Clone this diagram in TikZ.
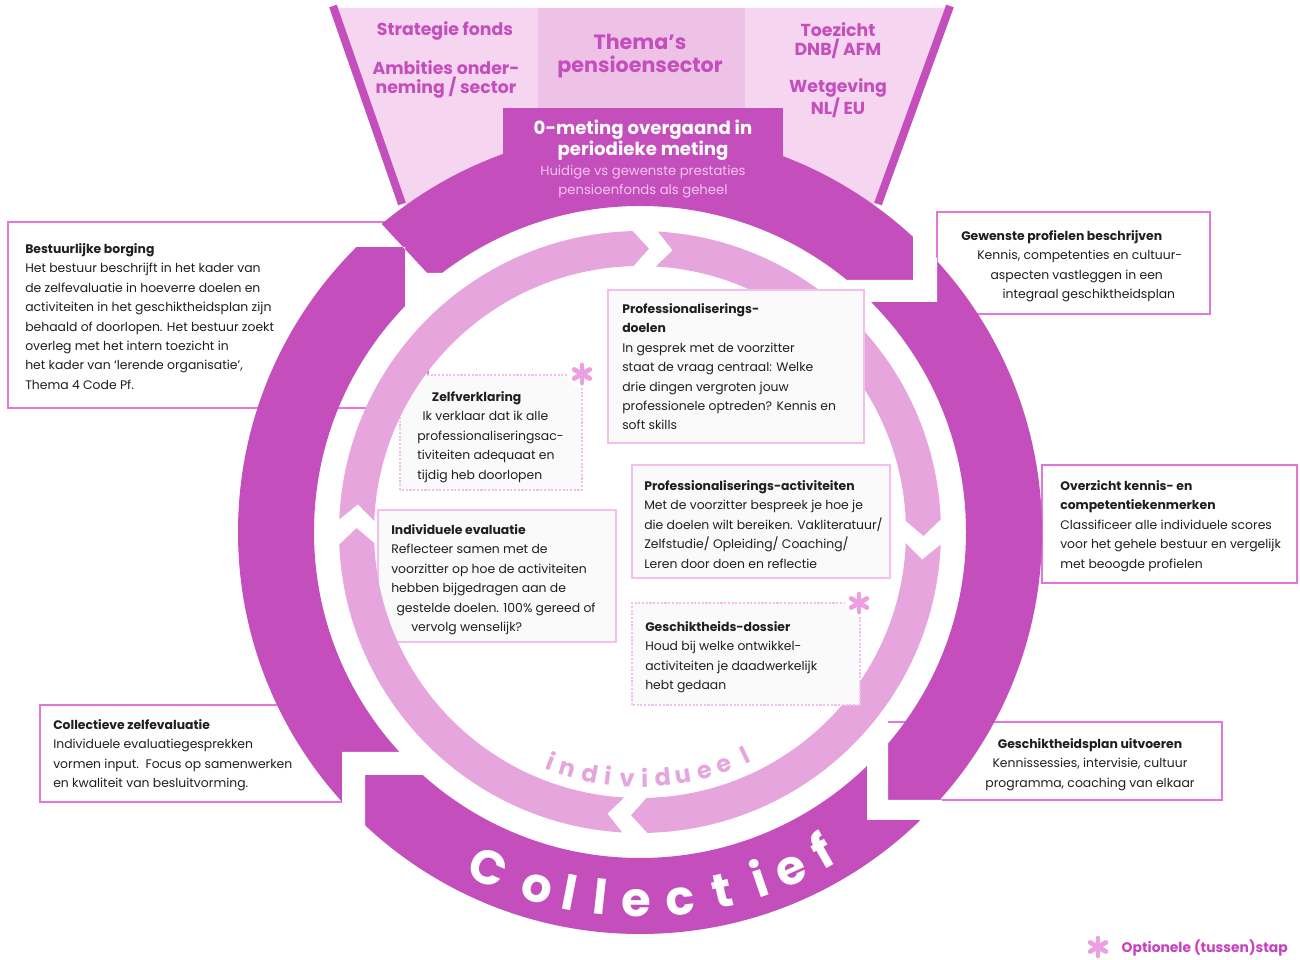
\documentclass[tikz,border=0pt]{standalone}
\usepackage{fontspec}
\setmainfont{Poppins}
\usetikzlibrary{calc}

\definecolor{ringdark}{RGB}{196,78,188}
\definecolor{ringlight}{RGB}{230,166,221}
\definecolor{funnel}{RGB}{246,213,240}
\definecolor{funnelmid}{RGB}{238,193,231}
\definecolor{boxline}{RGB}{226,118,218}
\definecolor{innerline}{RGB}{243,192,238}
\definecolor{innerfill}{RGB}{250,250,250}
\definecolor{subtext}{RGB}{242,198,236}
\definecolor{starpink}{RGB}{234,160,226}
\definecolor{legendtext}{RGB}{200,64,190}

\begin{document}
\begin{tikzpicture}[x=0.75pt, y=0.75pt,
  outerbox/.style={draw=boxline, line width=1.1pt, fill=white},
  innerbox/.style={draw=innerline, line width=0.9pt, fill=innerfill},
  dotbox/.style={innerbox, dash pattern=on 1.6pt off 1.2pt},
  boxtext/.style={anchor=north west, inner sep=0pt, align=left, text=black!88, font=\fontsize{9.3}{14.6}\selectfont},
  funneltext/.style={text=ringdark, align=center, font=\bfseries\fontsize{13}{14.3}\selectfont},
  optstar/.pic={
    \fill[white] (0,0) circle (14);
    \foreach \a in {90,30,-30}
      \draw[starpink, line width=3.6pt, line cap=round] (\a:9) -- (\a+180:9);
  }]
\useasboundingbox (0,0) rectangle (1300,960);
\fill[white] (0,0) rectangle (1300,960);

% trechter bovenaan
\fill[funnel] (333,952) -- (950,952) -- (878,756) -- (402,756) -- cycle;
\fill[funnelmid] (538,852) rectangle (745,952);
\draw[ringdark, line width=6pt] (333,954) -- (402,756);
\draw[ringdark, line width=6pt] (950,954) -- (878,756);

% kaders buiten de ring
\draw[outerbox] (8,552) rectangle (428,738);
\node[boxtext] (borging) at (25,717) {\textbf{Bestuurlijke borging}\\
  Het bestuur beschrijft in het kader van\\
  de zelfevaluatie in hoeverre doelen en\\
  activiteiten in het geschiktheidsplan zijn\\
  behaald of doorlopen. Het bestuur zoekt\\
  overleg met het intern toezicht in\\
  het kader van ‘lerende organisatie’,\\
  Thema 4 Code Pf.};
\draw[outerbox] (937,646) rectangle (1210,748);
\node[boxtext] (profielen) at (961,730) {\textbf{Gewenste profielen beschrijven}\\
  \hspace*{12pt}Kennis, competenties en cultuur-\\
  \hspace*{22pt}aspecten vastleggen in een\\
  \hspace*{31pt}integraal geschiktheidsplan};
\draw[outerbox] (1042,377) rectangle (1297,495);
\node[boxtext] (overzicht) at (1060,480) {\textbf{Overzicht kennis- en}\\
  \textbf{competentiekenmerken}\\
  Classificeer alle individuele scores\\
  voor het gehele bestuur en vergelijk\\
  met beoogde profielen};
\draw[outerbox] (887,160) rectangle (1222,238);
\node[boxtext, anchor=north, align=center] (uitvoeren) at (1090,222) {\textbf{Geschiktheidsplan uitvoeren}\\
  Kennissessies, intervisie, cultuur\\
  programma, coaching van elkaar};
\draw[outerbox] (40,158) rectangle (342,255);
\node[boxtext] (zelfevaluatie) at (53,241) {\textbf{Collectieve zelfevaluatie}\\
  Individuele evaluatiegesprekken\\
  vormen input.\ \ Focus op samenwerken\\
  en kwaliteit van besluitvorming.};

% buitenste ring (collectief)
\fill[ringdark, even odd rule] (640,428) circle (402) (640,428) circle (326);
\begin{scope}
\clip (640,428) circle (404);
\fill[white] (300,713) -- (405,713) -- (405,600) -- (460,600) -- (460,687) -- (427,687) -- (375,743) -- (300,743) -- cycle;
\fill[white] (913,800) -- (937,800) -- (937,658) -- (800,658) -- (800,680) -- (913,680) -- cycle;
\fill[white] (867,300) -- (888,300) -- (888,160) -- (1000,160) -- (1000,140) -- (867,140) -- cycle;
\fill[white] (342,208) -- (480,208) -- (480,185) -- (365,185) -- (365,100) -- (342,100) -- cycle;
\end{scope}
\fill[ringdark] (503,760) rectangle (783,852);

% binnenste ring (individueel)
\draw[innerbox] (378,318) rectangle (616,450);
\draw[dotbox] (400,470) rectangle (582,585);
\foreach \s/\e in {177.6/91.4, 86.6/2.4, -2.4/-88.6, -93.4/-177.6}
  \fill[ringlight, shift={(640,428)}] (\s:301) arc[start angle=\s, end angle=\e, radius=301]
    -- (\e-3.2:283.5) -- (\e:266) arc[start angle=\e, end angle=\s, radius=266]
    -- (\s-3.2:283.5) -- cycle;

% kaders binnen de ring
\draw[innerbox] (608,517) rectangle (864,670);
\draw[innerbox] (632,382) rectangle (890,495);
\draw[dotbox] (632,255) rectangle (860,357);
\pic (ster1) at (582,586) {optstar};
\pic (ster2) at (859,357) {optstar};

\node[boxtext] (doelen) at (622,657) {\textbf{Professionaliserings-}\\
  \textbf{doelen}\\
  In gesprek met de voorzitter\\
  staat de vraag centraal: Welke\\
  drie dingen vergroten jouw\\
  professionele optreden? Kennis en\\
  soft skills};
\node[boxtext] (zelfverklaring) at (417,569) {\hspace*{11pt}\textbf{Zelfverklaring}\\
  \hspace*{4pt}Ik verklaar dat ik alle\\
  professionaliseringsac-\\
  tiviteiten adequaat en\\
  tijdig heb doorlopen};
\node[boxtext] (activiteiten) at (644,480) {\textbf{Professionaliserings-activiteiten}\\
  Met de voorzitter bespreek je hoe je\\
  die doelen wilt bereiken. Vakliteratuur/\\
  Zelfstudie/ Opleiding/ Coaching/\\
  Leren door doen en reflectie};
\node[boxtext] (evaluatie) at (391,436) {\textbf{Individuele evaluatie}\\
  Reflecteer samen met de\\
  voorzitter op hoe de activiteiten\\
  hebben bijgedragen aan de\\
  \hspace*{4pt}gestelde doelen. 100\% gereed of\\
  \hspace*{15pt}vervolg wenselijk?};
\node[boxtext] (dossier) at (645,339) {\textbf{Geschiktheids-dossier}\\
  Houd bij welke ontwikkel-\\
  activiteiten je daadwerkelijk\\
  hebt gedaan};

% teksten in de trechter
\node[funneltext] (strategie) at (445,929) {Strategie fonds};
\node[funneltext] (ambities) at (446,881) {Ambities onder-\\neming / sector};
\node[funneltext, font=\bfseries\fontsize{15.5}{17.5}\selectfont] (themas) at (640,904) {Thema’s\\pensioensector};
\node[funneltext] (toezicht) at (838,919) {Toezicht\\DNB/ AFM};
\node[funneltext] (wetgeving) at (838,862) {Wetgeving\\NL/ EU};
\node[text=white, align=center, font=\bfseries\fontsize{13.6}{15.4}\selectfont] (nulmeting) at (643,820) {0-meting overgaand in\\periodieke meting};
\node[text=subtext, align=center, font=\fontsize{9.9}{14.3}\selectfont] (prestaties) at (643,778) {Huidige vs gewenste prestaties\\pensioenfonds als geheel};

% gebogen opschriften
\foreach \ch/\a [count=\i] in {C/245.6, o/253.9, l/259.0, l/263.8, e/269.5, c/276.2, t/282.9, i/288.9, e/294.0, f/299.8}
  \node[text=white, font=\bfseries\fontsize{36}{36}\selectfont, anchor=base, inner sep=0pt, rotate=\a+90] (coll\i) at ($(640,428)+(\a:385)$) {\ch};
\foreach \ch/\a [count=\i] in {i/248.9, n/253.0, d/258.3, i/262.6, v/267.0, i/271.1, d/275.3, u/280.0, e/285.2, e/289.9, l/295.3}
  \node[text=ringlight, font=\bfseries\fontsize{18}{18}\selectfont, anchor=base, inner sep=0pt, rotate=\a+90] (indiv\i) at ($(640,428)+(\a:255)$) {\ch};

% legenda
\pic (ster3) at (1098,13) {optstar};
\node[anchor=west, text=legendtext, font=\bfseries\fontsize{10.4}{12}\selectfont] (legenda) at (1117,12) {Optionele (tussen)stap};
\end{tikzpicture}
\end{document}
